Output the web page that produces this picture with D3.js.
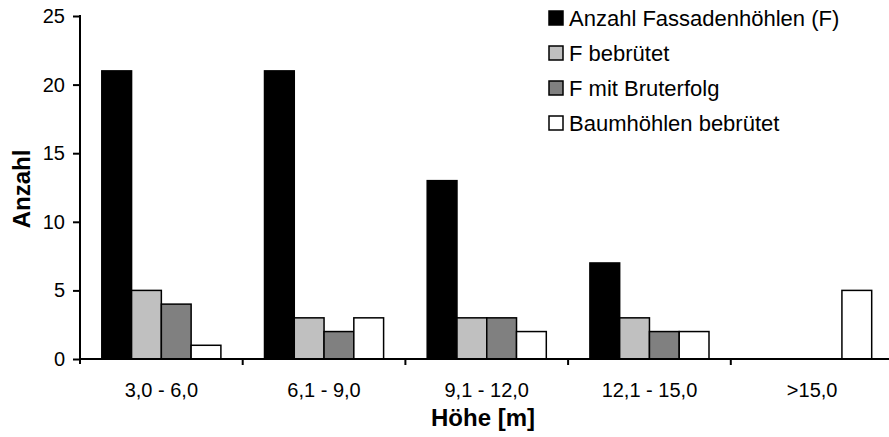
<!DOCTYPE html>
<html>
<head>
<meta charset="utf-8">
<script src="https://cdn.jsdelivr.net/npm/d3@7"></script>
<style>
  body { margin: 0; background: #fff; }
  svg { display: block; font-family: Arial, "Liberation Sans", sans-serif; }
</style>
</head>
<body>
<div id="chart"></div>
<script>
// categories (Höhe in m)
var categories = ["3,0 - 6,0", "6,1 - 9,0", "9,1 - 12,0", "12,1 - 15,0", ">15,0"];

// series values
var fassadenhoehlen = [21, 21, 13, 7, 0];
var fBebrutet = [5, 3, 3, 3, 0];
var fBruterfolg = [4, 2, 3, 2, 0];
var baumBebrutet = [1, 3, 2, 2, 5];

var seriesNames = ["Anzahl Fassadenhöhlen (F)", "F bebrütet", "F mit Bruterfolg", "Baumhöhlen bebrütet"];
var seriesColors = ["#000000", "#c0c0c0", "#808080", "#ffffff"];
var yTicks = [0, 5, 10, 15, 20, 25];

var series = [fassadenhoehlen, fBebrutet, fBruterfolg, baumBebrutet];

// set the dimensions and margins of the graph
var W = 889, H = 437;
var margin = {top: 16, left: 80, bottom: 78};
var plotRight = 893.5;
var plotBottom = H - margin.bottom;

var svg = d3.select("#chart")
  .append("svg")
    .attr("width", W)
    .attr("height", H);

var x0 = d3.scaleBand()
  .domain(categories)
  .range([margin.left, plotRight])
  .paddingInner(0)
  .paddingOuter(0);

var x1 = d3.scaleBand()
  .domain(d3.range(series.length))
  .range([x0.bandwidth() * 0.134, x0.bandwidth() * 0.866])
  .padding(0);

var y = d3.scaleLinear()
  .domain([0, 25])
  .range([plotBottom, margin.top]);

// bars
var groups = svg.selectAll(".cat")
  .data(categories)
  .enter()
  .append("g")
    .attr("class", "cat")
    .attr("transform", function(d) { return "translate(" + x0(d) + ",0)"; });

groups.selectAll("rect")
  .data(function(d, i) { return series.map(function(s, j) { return {j: j, v: s[i]}; }); })
  .enter()
  .filter(function(d) { return d.v > 0; })
  .append("rect")
    .attr("x", function(d) { return x1(d.j); })
    .attr("y", function(d) { return y(d.v); })
    .attr("width", x1.bandwidth())
    .attr("height", function(d) { return y(0) - y(d.v); })
    .attr("fill", function(d) { return seriesColors[d.j]; })
    .attr("stroke", "#000")
    .attr("stroke-width", 1.5);

// y axis
var yAxis = svg.append("g")
  .attr("transform", "translate(" + margin.left + ",0)")
  .call(d3.axisLeft(y).tickValues(yTicks).tickSize(7).tickPadding(8).tickSizeOuter(0));
yAxis.select(".domain").attr("stroke-width", 2).attr("d", "M0," + (margin.top - 1) + "V" + (plotBottom + 5));
yAxis.selectAll(".tick line").attr("stroke-width", 2);
yAxis.selectAll("text").attr("font-size", 20).attr("fill", "#000").attr("font-family", "Arial, 'Liberation Sans', sans-serif");

// x axis: ticks between categories
var xAxis = svg.append("g")
  .attr("transform", "translate(0," + plotBottom + ")");
xAxis.append("line")
  .attr("x1", margin.left)
  .attr("x2", plotRight)
  .attr("stroke", "#000")
  .attr("stroke-width", 2);
xAxis.selectAll(".xtick")
  .data(categories.slice(1))
  .enter()
  .append("line")
    .attr("x1", function(d) { return x0(d); })
    .attr("x2", function(d) { return x0(d); })
    .attr("y1", 0)
    .attr("y2", 6)
    .attr("stroke", "#000")
    .attr("stroke-width", 2);
xAxis.selectAll(".xlab")
  .data(categories)
  .enter()
  .append("text")
    .attr("x", function(d) { return x0(d) + x0.bandwidth() / 2; })
    .attr("y", 38)
    .attr("text-anchor", "middle")
    .attr("font-size", 20)
    .text(function(d) { return d; });

// axis titles
svg.append("text")
  .attr("x", 483)
  .attr("y", 426)
  .attr("text-anchor", "middle")
  .attr("font-size", 24)
  .attr("font-weight", "bold")
  .text("Höhe [m]");

svg.append("text")
  .attr("transform", "translate(30,189) rotate(-90)")
  .attr("text-anchor", "middle")
  .attr("font-size", 24)
  .attr("font-weight", "bold")
  .text("Anzahl");

// legend
var legend = svg.selectAll(".legend")
  .data(seriesNames)
  .enter()
  .append("g")
    .attr("class", "legend")
    .attr("transform", function(d, i) { return "translate(549," + (18 + i * 35) + ")"; });

legend.append("rect")
  .attr("x", 0)
  .attr("y", -7)
  .attr("width", 14)
  .attr("height", 14)
  .attr("fill", function(d, i) { return seriesColors[i]; })
  .attr("stroke", "#000")
  .attr("stroke-width", 1.5);

legend.append("text")
  .attr("x", 20)
  .attr("y", 8)
  .attr("font-size", 22)
  .text(function(d) { return d; });
</script>
</body>
</html>
